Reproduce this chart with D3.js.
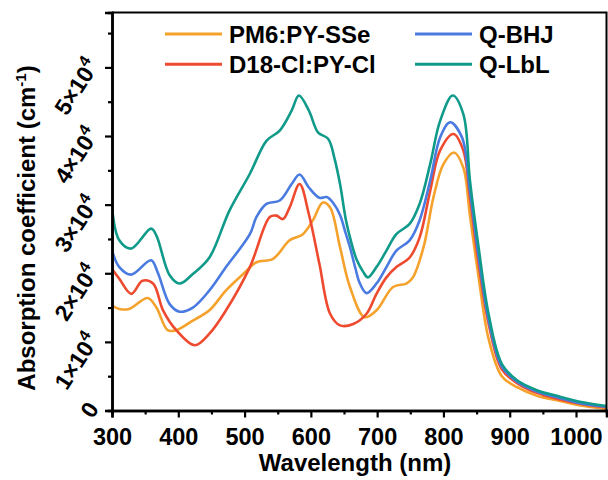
<!DOCTYPE html>
<html>
<head>
<meta charset="utf-8">
<script src="https://cdn.jsdelivr.net/npm/d3@7"></script>
<style>
  body { margin: 0; background: #fff; }
  text { font-family: "Liberation Sans", Arial, sans-serif; font-weight: bold; fill: #000; }
</style>
</head>
<body>
<svg id="chart" width="608" height="480"></svg>
<script>
// absorption spectra, values in units of 10^4 cm-1
const wlPM6 = [300,311,326,354,367,384,397,422,447,472,498,518,543,568,588,603,618,629,644,659,681,699,724,744,754,770,785,800,816,830,840,853,868,888,911,940,976,1010,1046];
const absPM6 = [1.53,1.48,1.48,1.64,1.50,1.17,1.17,1.31,1.46,1.75,1.99,2.16,2.21,2.48,2.57,2.77,3.03,2.96,2.38,1.80,1.36,1.46,1.80,1.85,1.94,2.38,3.11,3.59,3.76,3.54,2.84,1.95,1.05,0.50,0.34,0.22,0.14,0.07,0.025];

const wlD18 = [300,311,329,346,362,377,397,425,447,472,508,538,548,558,568,583,597,613,629,644,664,684,699,714,729,749,764,780,795,815,830,840,853,868,888,911,940,976,1010,1046];
const absD18 = [2.06,1.92,1.70,1.89,1.85,1.46,1.17,0.95,1.12,1.46,2.09,2.82,2.84,2.79,2.96,3.30,2.86,2.13,1.41,1.24,1.26,1.41,1.70,1.94,2.09,2.23,2.52,3.20,3.79,4.03,3.79,3.10,2.15,1.27,0.60,0.40,0.26,0.16,0.09,0.045];

const wlBHJ = [300,311,329,359,369,387,402,422,447,472,508,518,533,553,571,583,597,613,624,634,644,652,659,667,674,684,699,714,729,749,764,780,795,810,828,840,853,868,888,911,940,976,1010,1046];
const absBHJ = [2.33,2.09,1.98,2.19,2.01,1.55,1.44,1.50,1.75,2.09,2.57,2.82,3.01,3.06,3.30,3.44,3.25,3.10,3.11,3.02,2.85,2.60,2.38,2.08,1.85,1.71,1.85,2.09,2.33,2.48,2.77,3.35,3.98,4.20,3.98,3.20,2.25,1.33,0.64,0.42,0.28,0.18,0.10,0.055];

const wlLbL = [300,311,329,359,367,387,402,422,447,477,508,533,553,571,582,597,611,626,636,644,653,661,669,679,686,699,714,729,749,764,780,795,814,830,840,853,868,888,911,940,976,1010,1046];
const absLbL = [2.96,2.48,2.36,2.65,2.55,1.97,1.85,1.99,2.23,2.91,3.45,3.93,4.08,4.37,4.59,4.37,4.05,3.96,3.66,3.30,2.77,2.45,2.20,2.02,1.94,2.09,2.33,2.57,2.72,3.01,3.59,4.22,4.59,4.32,3.35,2.38,1.41,0.68,0.44,0.30,0.20,0.12,0.066];

const seriesNames = ["PM6:PY-SSe", "D18-Cl:PY-Cl", "Q-BHJ", "Q-LbL"];
const seriesColors = ["#F5A22D", "#EE4A2F", "#4A7BE0", "#109A8A"];

const xTicks = [300,400,500,600,700,800,900,1000];
const yTicks = [0,1,2,3,4,5];

const svg = d3.select("#chart"),
    margin = {top: 12.5, right: 1.5, bottom: 69.5, left: 112},
    width = 608 - margin.left - margin.right,
    height = 480 - margin.top - margin.bottom;

const x = d3.scaleLinear().domain([300, 1046]).range([0, width]);
const y = d3.scaleLinear().domain([0, 5.8]).range([height, 0]);

const g = svg.append("g")
    .attr("transform", "translate(" + margin.left + "," + margin.top + ")");

const data = [
  wlPM6.map((w, i) => ({wl: w, v: absPM6[i]})),
  wlD18.map((w, i) => ({wl: w, v: absD18[i]})),
  wlBHJ.map((w, i) => ({wl: w, v: absBHJ[i]})),
  wlLbL.map((w, i) => ({wl: w, v: absLbL[i]}))
];

const line = d3.line()
    .x(d => x(d.wl))
    .y(d => y(d.v))
    .curve(d3.curveCatmullRom.alpha(0.5));

g.append("defs").append("clipPath").attr("id", "clip")
  .append("rect").attr("width", width).attr("height", height);

g.selectAll(".curve").data(data).enter()
  .append("path")
    .attr("class", "curve")
    .attr("clip-path", "url(#clip)")
    .attr("d", line)
    .attr("fill", "none")
    .attr("stroke", (d, i) => seriesColors[i])
    .attr("stroke-width", 2.6)
    .attr("stroke-linejoin", "round");

// frame (top / right)
g.append("path")
  .attr("d", "M0,0H" + width + "V" + height)
  .attr("fill", "none").attr("stroke", "#000").attr("stroke-width", 2);

// x axis
const xAxis = g.append("g")
    .attr("transform", "translate(0," + height + ")");
xAxis.call(d3.axisBottom(x).tickValues(d3.range(350, 1046, 100)).tickSize(4).tickFormat(""));
xAxis.append("g").call(d3.axisBottom(x).tickValues(xTicks).tickSize(7).tickPadding(5).tickFormat(d3.format("d")));
xAxis.selectAll("path.domain").attr("stroke-width", 2.5);
xAxis.selectAll("line").attr("stroke-width", 2.2);
xAxis.selectAll("text").attr("font-size", "23.5px").attr("font-family", "Liberation Sans, Arial").attr("font-weight", "bold").attr("dy", "0.95em");

// y axis
const yAxis = g.append("g");
yAxis.call(d3.axisLeft(y).tickValues(d3.range(0.5, 5.8, 1)).tickSize(4).tickFormat(""));
yAxis.append("g").call(d3.axisLeft(y).tickValues(yTicks).tickSize(7).tickFormat(""));
yAxis.selectAll("path.domain").attr("stroke-width", 2.5);
yAxis.selectAll("line").attr("stroke-width", 2.2);

// rotated y tick labels
yTicks.forEach(t => {
  const lx = -19, ly = y(t) - 6;
  const txt = g.append("text")
      .attr("transform", "translate(" + lx + "," + ly + ") rotate(-57)")
      .attr("text-anchor", "end")
      .attr("dominant-baseline", "central")
      .attr("font-size", "23px");
  if (t === 0) {
    txt.text("0");
  } else {
    txt.append("tspan").text(t + "\u00d710");
    txt.append("tspan").attr("font-size", "16px").attr("dy", "-0.5em").text("4");
  }
});

// axis titles
svg.append("text")
    .attr("x", 355)
    .attr("y", 471)
    .attr("text-anchor", "middle")
    .attr("font-size", "24px")
    .text("Wavelength (nm)");

const yt = svg.append("text")
    .attr("transform", "translate(35,228) rotate(-90)")
    .attr("text-anchor", "middle")
    .attr("font-size", "24px");
yt.append("tspan").text("Absorption coefficient (cm");
yt.append("tspan").attr("font-size", "15px").attr("dy", "-0.6em").text("-1");
yt.append("tspan").attr("dy", "0.38em").text(")");

// legend
const legendPos = [[165, 34], [165, 64.3], [415, 34], [415, 64.3]];
const legend = svg.selectAll(".legend").data(seriesNames).enter()
  .append("g")
    .attr("class", "legend")
    .attr("transform", (d, i) => "translate(" + legendPos[i][0] + "," + legendPos[i][1] + ")");
legend.append("line")
    .attr("x1", 0).attr("x2", 57)
    .attr("stroke", (d, i) => seriesColors[i])
    .attr("stroke-width", 3);
legend.append("text")
    .attr("x", 64)
    .attr("y", 8.5)
    .attr("font-size", "24px")
    .text(d => d);
</script>
</body>
</html>
